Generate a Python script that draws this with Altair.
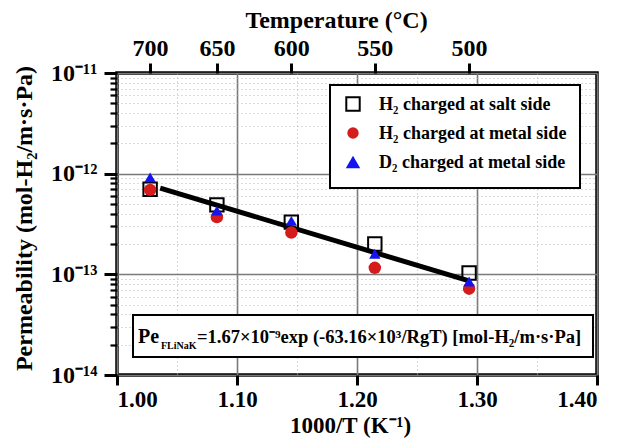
import altair as alt
import pandas as pd

FONT = "Liberation Serif"

# ---- data ----
temps_c = [700, 650, 600, 550, 500]
series_names = ["H₂ charged at salt side", "H₂ charged at metal side", "D₂ charged at metal side"]
series_shapes = ["square", "circle", "triangle-up"]
series_fills = ["transparent", "#d41c1c", "#1414f0"]
series_strokes = ["black", "transparent", "transparent"]
series_sizes = [180, 130, 210]
salt_side_h2 = [7.0e-13, 4.9e-13, 3.3e-13, 2.0e-13, 1.03e-13]
metal_side_h2 = [6.9e-13, 3.7e-13, 2.6e-13, 1.16e-13, 7.2e-14]
metal_side_d2 = [9.2e-13, 4.3e-13, 3.4e-13, 1.6e-13, 8.5e-14]
fit_x = [1.036, 1.292]
fit_y = [7.2e-13, 8.7e-14]

x_ticks = [1.00, 1.05, 1.10, 1.15, 1.20, 1.25, 1.30, 1.35, 1.40]
y_decades = [-14, -13, -12, -11]
y_decade_labels = ["10⁻¹⁴", "10⁻¹³", "10⁻¹²", "10⁻¹¹"]
y_minor_mult = [2, 3, 4, 5, 6, 7, 8, 9]
top_temps = [700, 650, 600, 550, 500]

# ---- tables ----
rows = []
for i, (name, vals) in enumerate(zip(series_names, [salt_side_h2, metal_side_h2, metal_side_d2])):
    for t, v in zip(temps_c, vals):
        rows.append({"series": name, "k": i, "x": 1000.0 / (t + 273.15), "y": v})
pts = pd.DataFrame(rows)
fit = pd.DataFrame({"x": fit_x, "y": fit_y})

y_values = []
for e in y_decades[:-1]:
    y_values.append(10.0 ** e)
    for m in y_minor_mult:
        y_values.append(m * 10.0 ** e)
y_values.append(10.0 ** y_decades[-1])

top_values = [1000.0 / (t + 273.15) for t in top_temps]

y_major_test = "abs(log(datum.value)/LN10 - round(log(datum.value)/LN10)) < 0.01"
x_major_test = "abs(datum.value*10 - round(datum.value*10)) < 0.001"

y_label_expr = ""
for e, lab in zip(y_decades, y_decade_labels):
    y_label_expr += f"abs(log(datum.value)/LN10 - ({e})) < 0.01 ? '{lab}' : "
y_label_expr += "''"

xscale = alt.Scale(domain=[1.0, 1.4], nice=False, zero=False)
yscale = alt.Scale(type="log", domain=[1e-14, 1e-11], nice=False)


def cond(test, a, b):
    return {"condition": {"test": test, "value": a}, "value": b}


x_axis = alt.Axis(
    orient="bottom", values=x_ticks, labelExpr=f"{x_major_test} ? format(datum.value, '.2f') : ''",
    title="1000/T (K⁻¹)", titleX=233, titleY=57, titleBaseline="alphabetic", titleAlign="center",
    titleFontSize=23, labelFontSize=23,
    grid=True, gridColor=cond(x_major_test, "#7a7a7a", "#b8b8b8"),
    gridDash=cond(x_major_test, [], [1, 3]), gridWidth=cond(x_major_test, 1.6, 1.2),
    tickSize=cond(x_major_test, 10, 0), tickOpacity=cond(x_major_test, 1, 0),
    tickWidth=3, tickColor="black", labelPadding=3, domain=False,
)
y_axis = alt.Axis(
    orient="left", values=y_values, labelExpr=y_label_expr,
    title="Permeability (mol-H₂/m·s·Pa)", titleX=-86, titleY=145, titleAlign="center",
    titleBaseline="alphabetic", titleAngle=270,
    grid=True, gridColor=cond(y_major_test, "#7a7a7a", "#b8b8b8"),
    gridDash=cond(y_major_test, [], [1, 3]), gridWidth=cond(y_major_test, 1.6, 1.2),
    tickSize=cond(y_major_test, 13, 7), tickWidth=cond(y_major_test, 3, 2.2),
    tickColor="black", labelPadding=7, domain=False,
)
top_axis = alt.Axis(
    orient="top", values=top_values, labelExpr="format(1000/datum.value - 273.15, '.0f')",
    title="Temperature (°C)", titleX=219, titleY=-46, titleAlign="center", titleBaseline="alphabetic",
    grid=False, tickSize=10, tickWidth=3, tickColor="black", labelPadding=3, domain=False,
)

line = alt.Chart(fit).mark_line(color="black", strokeWidth=5).encode(
    x=alt.X("x:Q", scale=xscale, axis=top_axis),
    y=alt.Y("y:Q", scale=yscale, axis=None),
)

points = alt.Chart(pts).mark_point(filled=True, strokeWidth=2, opacity=1).encode(
    x=alt.X("x:Q", scale=xscale, axis=x_axis),
    y=alt.Y("y:Q", scale=yscale, axis=y_axis),
    shape=alt.Shape("series:N", scale=alt.Scale(domain=series_names, range=series_shapes), legend=None),
    fill=alt.Fill("series:N", scale=alt.Scale(domain=series_names, range=series_fills), legend=None),
    stroke=alt.Stroke("series:N", scale=alt.Scale(domain=series_names, range=series_strokes), legend=None),
    size=alt.Size("series:N", scale=alt.Scale(domain=series_names, range=series_sizes), legend=None),
    order=alt.Order("k:Q"),
)

one = alt.Data(values=[{"a": 1}])


def rect(x1, x2, y1, y2):
    return alt.Chart(one).mark_rect(fill="white", stroke="black", strokeWidth=2).encode(
        x=alt.value(x1), x2=alt.value(x2), y=alt.value(y1), y2=alt.value(y2)
    )


def txt(s, x, y, size):
    return alt.Chart(one).mark_text(
        text=s, align="left", baseline="alphabetic", font=FONT, fontWeight="bold",
        fontSize=size, color="black"
    ).encode(x=alt.value(x), y=alt.value(y))


# legend (drawn by hand)
legend_layers = [rect(213, 463, 12, 115)]
for i, name in enumerate(series_names):
    ry = 31 + 29 * i
    legend_layers.append(
        alt.Chart(one).mark_point(
            shape=series_shapes[i], filled=True, fill=series_fills[i], stroke=series_strokes[i],
            strokeWidth=2, size=series_sizes[i], opacity=1
        ).encode(x=alt.value(236), y=alt.value(ry))
    )
    legend_layers.append(txt(name, 262, ry + 6, 18))

# equation box
eq_layers = [
    rect(16, 476, 242, 284),
    txt("Pe", 21, 270, 20),
    txt("FLiNaK", 44, 276, 10),
    txt("=1.67×10⁻⁹exp (-63.16×10³/RgT) [mol-H₂/m·s·Pa]", 80, 270, 18.5),
]

chart = alt.layer(line, points, *legend_layers, *eq_layers).resolve_axis(
    x="independent", y="independent"
).properties(
    width=480, height=302,
    autosize=alt.AutoSizeParams(type="none"),
    padding={"left": 109, "top": 65, "right": 26, "bottom": 64},
    background="white",
).configure_view(stroke="black", strokeWidth=3.5).configure_axis(
    labelFont=FONT, labelFontSize=24, labelFontWeight="bold", labelColor="black",
    titleFont=FONT, titleFontSize=24, titleFontWeight="bold", titleColor="black",
)

chart.save("out.html", embed_options={"renderer": "svg", "actions": False})
